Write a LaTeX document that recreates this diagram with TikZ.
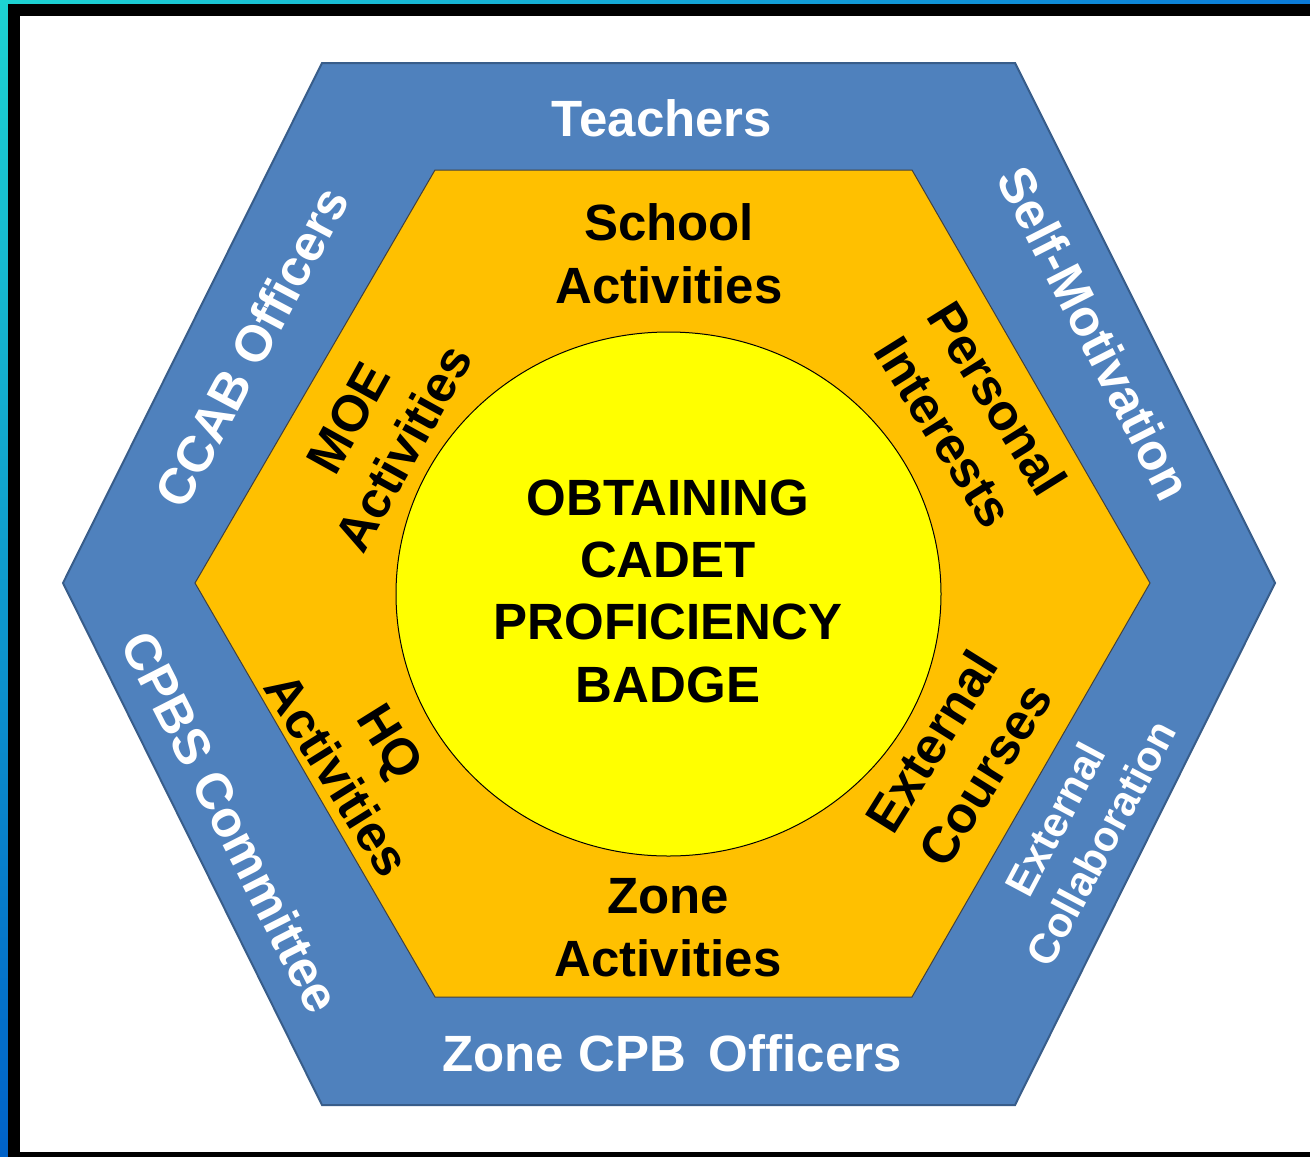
\documentclass[tikz,border=0pt]{standalone}
\usepackage{fontspec}
\setmainfont{Liberation Sans}
\definecolor{tealA}{HTML}{1DD3D2}
\definecolor{blueA}{HTML}{0A7AD8}
\definecolor{blueB}{HTML}{0062C8}
\definecolor{hexblue}{HTML}{4F81BD}
\definecolor{hexblueD}{HTML}{385D8A}
\definecolor{hexorange}{HTML}{FFC000}
\definecolor{hexyellow}{HTML}{FFFF00}
\begin{document}
\begin{tikzpicture}[x=1pt,y=-1pt,
  lbl/.style={font=\bfseries\fontsize{51}{63}\selectfont, align=center, inner sep=0pt},
  wlbl/.style={lbl, text=white},
  blbl/.style={lbl, text=black}]
\useasboundingbox (0,0) rectangle (1310,1157);
% frame
\shade[left color=tealA, right color=blueA] (0,0) rectangle (1310,4);
\shade[top color=tealA, bottom color=blueB] (0,0) rectangle (8,1157);
\fill[black] (8,4) rectangle (1310,1157);
\fill[white] (20,16) rectangle (1310,1152);
% hexagons and circle
\draw[fill=hexblue, draw=hexblueD, line width=2pt]
  (322,63) -- (1015,63) -- (1275,583) -- (1015,1105) -- (322,1105) -- (63,583) -- cycle;
\draw[fill=hexorange, draw=black!75, line width=1pt]
  (435,170) -- (912,170) -- (1150,583) -- (912,997) -- (435,997) -- (195,583) -- cycle;
\draw[fill=hexyellow, draw=black, line width=1pt] (668.5,594) ellipse [x radius=272.5, y radius=262];
% outer labels
\node[wlbl] (teachers) at (662,118) {Teachers};
\node[wlbl] (zonecpb) at (672,1053) {Zone CPB\hspace{0.45em}Officers};
\node[wlbl, rotate=62] (ccab) at (252,347) {CCAB Officers};
\node[wlbl, rotate=-63] (selfmot) at (1095,333) {Self-Motivation};
\node[wlbl, rotate=-63] (cpbs) at (231,822) {CPBS Committee};
\node[wlbl, rotate=62, font=\bfseries\fontsize{42}{52}\selectfont] (extcollab) at (1078,831) {External\\Collaboration};
% inner labels
\node[blbl] (school) at (669,254) {School\\Activities};
\node[blbl] (zone) at (668,928) {Zone\\Activities};
\node[blbl, rotate=61] (moe) at (376,433) {MOE\\Activities};
\node[blbl, rotate=-58] (personal) at (971,415) {Personal\\Interests};
\node[blbl, rotate=-58] (hq) at (364,758) {HQ\\Activities};
\node[blbl, rotate=58] (extcourses) at (958,758) {External\\Courses};
% centre
\node[blbl, font=\bfseries\fontsize{51}{62.3}\selectfont] (badge) at (668,591) {OBTAINING\\CADET\\PROFICIENCY\\BADGE};
\end{tikzpicture}
\end{document}
